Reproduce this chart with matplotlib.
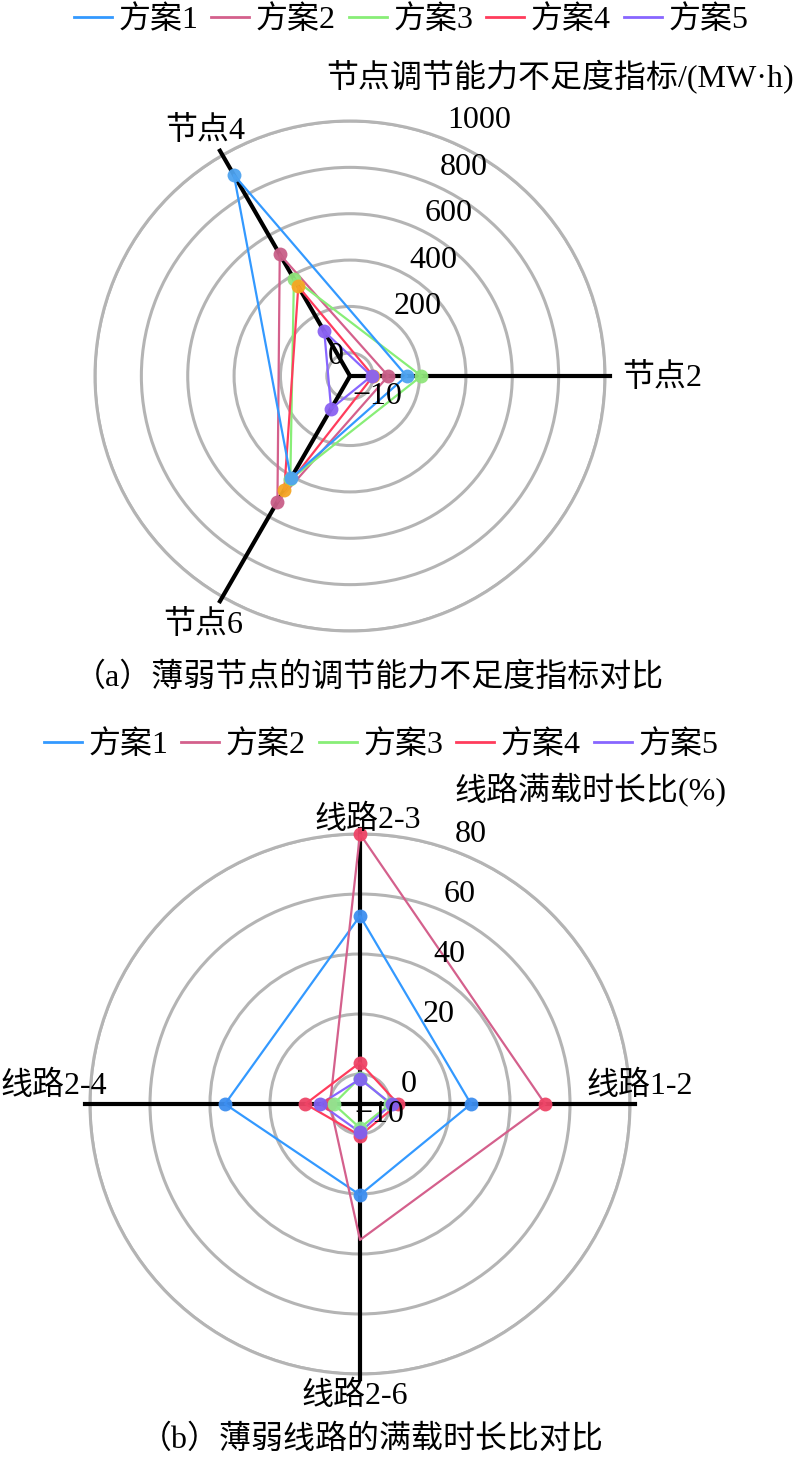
import numpy as np
import matplotlib
matplotlib.use('Agg')
import matplotlib.pyplot as plt
from matplotlib.lines import Line2D

plt.rcParams['font.family'] = ['Liberation Serif', 'Noto Sans CJK SC']
plt.rcParams['axes.unicode_minus'] = True

# data
schemes = ['方案1', '方案2', '方案3', '方案4', '方案5']
line_colors = ['#3399ff', '#d4608c', '#88ee77', '#ff3c5c', '#8866ff']

# (a) node regulation shortage index, MW·h
nodes = ['节点2', '节点4', '节点6']
node_vals = {
    '方案1': [144, 902, 410],
    '方案2': [65, 506, 526],
    '方案3': [208, 384, 415],
    '方案4': [0, 346, 467],
    '方案5': [-7, 122, 63],
}
node_marker_colors = ['#4ea3f0', '#c95f88', '#8fe57a', '#f5a623', '#8a62f2']
node_ticks = [0, 200, 400, 600, 800, 1000]
node_rmin, node_rmax = -100, 1000

# (b) line full-load duration ratio, %
lines_ = ['线路1-2', '线路2-3', '线路2-4', '线路2-6']
line_vals = {
    '方案1': [27, 52.7, 35, 20.3],
    '方案2': [51.7, 80, 0, 35.3],
    '方案3': [0, -1.2, -1.2, -2],
    '方案4': [2.7, 3.8, 8.2, 0.5],
    '方案5': [0.5, -1.7, 3.2, -0.6],
}
line_marker_colors = ['#3d8ef0', '#ee4466', '#90e890', '#ee4466', '#8060f0']
# the original shows no marker at 方案2 / 线路2-6
line_marker_shown = {'方案2': [True, True, True, False]}
line_ticks = [0, 20, 40, 60, 80]
line_rmin, line_rmax = -10, 80

W, H = 811, 1468
fig = plt.figure(figsize=(W / 100, H / 100), dpi=100)
FS = 23


def fx(x):
    return x / W


def fy(y):
    return 1 - y / H


def radar(cx, cy, R, theta_deg, vals, marker_colors, ticks, rmin, rmax, zord, shown=None):
    ax = fig.add_axes([fx(cx - R), fy(cy + R), 2 * R / W, 2 * R / H], projection='polar')
    theta = np.deg2rad(theta_deg)
    ax.set_ylim(rmin, rmax)
    ax.set_yticks(ticks)
    ax.set_yticklabels([])
    ax.set_xticks([])
    ax.yaxis.grid(True, color='#b4b4b4', lw=2.2)
    ax.spines['polar'].set_color('#b4b4b4')
    ax.spines['polar'].set_linewidth(2.2)
    ax.set_facecolor('none')
    ext = rmax + (rmax - rmin) * 0.02
    for t in theta:
        ax.plot([t, t], [rmin, ext], color='black', lw=3, clip_on=False, zorder=3)
    for i, s in enumerate(schemes):
        v = np.array(vals[s], dtype=float)
        tt = np.append(theta, theta[0])
        vv = np.append(v, v[0])
        ax.plot(tt, vv, color=line_colors[i], lw=1.6, zorder=4 + zord[i])
        m = np.ones(len(v), dtype=bool)
        if shown and s in shown:
            m = np.array(shown[s])
        ax.plot(theta[m], v[m], 'o', color=marker_colors[i], ms=10, mec='none',
                alpha=0.95, zorder=10 + zord[i], clip_on=False)
    return ax


# top chart
cxa, cya, Ra = 350, 376, 255
radar(cxa, cya, Ra, [0, 120, 240], node_vals, node_marker_colors,
      node_ticks, node_rmin, node_rmax, [5, 1, 2, 3, 4])
for v in node_ticks[1:]:
    r = Ra * (v - node_rmin) / (node_rmax - node_rmin)
    fig.text(fx(cxa + 45 + 0.33 * r), fy(cya - r), str(v), fontsize=FS,
             ha='center', va='center')
fig.text(fx(cxa - 14), fy(cya - 19), '0', fontsize=FS, ha='center', va='center')
fig.text(fx(cxa + 27), fy(cya + 21), '−10', fontsize=FS, ha='center', va='center')
fig.text(fx(662), fy(378), nodes[0], fontsize=FS, ha='center', va='center')
fig.text(fx(205), fy(131), nodes[1], fontsize=FS, ha='center', va='center')
fig.text(fx(203), fy(625), nodes[2], fontsize=FS, ha='center', va='center')
fig.text(fx(560), fy(77), '节点调节能力不足度指标/(MW·h)', fontsize=FS,
         ha='center', va='center')
fig.text(fx(369), fy(678), '（a）薄弱节点的调节能力不足度指标对比', fontsize=FS,
         ha='center', va='center')

# bottom chart
cxb, cyb, Rb = 360, 1104, 270
radar(cxb, cyb, Rb, [0, 90, 180, 270], line_vals, line_marker_colors,
      line_ticks, line_rmin, line_rmax, [0, 1, 2, 3, 4], line_marker_shown)
for v in line_ticks[1:]:
    r = Rb * (v - line_rmin) / (line_rmax - line_rmin)
    fig.text(fx(cxb + 62 + 0.18 * r), fy(cyb - r), str(v), fontsize=FS,
             ha='center', va='center')
fig.text(fx(cxb + 49), fy(cyb - 19), '0', fontsize=FS, ha='center', va='center')
fig.text(fx(cxb + 19), fy(cyb + 11), '−10', fontsize=FS, ha='center', va='center')
fig.text(fx(640), fy(1086), lines_[0], fontsize=FS, ha='center', va='center')
fig.text(fx(368), fy(820), lines_[1], fontsize=FS, ha='center', va='center')
fig.text(fx(1), fy(1086), lines_[2], fontsize=FS, ha='left', va='center')
fig.text(fx(355), fy(1396), lines_[3], fontsize=FS, ha='center', va='center')
fig.text(fx(590), fy(790), '线路满载时长比(%)', fontsize=FS, ha='center', va='center')
fig.text(fx(372), fy(1440), '（b）薄弱线路的满载时长比对比', fontsize=FS,
         ha='center', va='center')

handles = [Line2D([], [], color=c, lw=2) for c in line_colors]
for xc, yc in [(411, 20), (381, 745)]:
    fig.legend(handles, schemes, loc='center', bbox_to_anchor=(fx(xc), fy(yc)),
               ncol=5, frameon=False, fontsize=FS, handlelength=1.2,
               handletextpad=0.2, columnspacing=0.4, borderaxespad=0,
               borderpad=0)

fig.savefig('out.png', dpi=100)
